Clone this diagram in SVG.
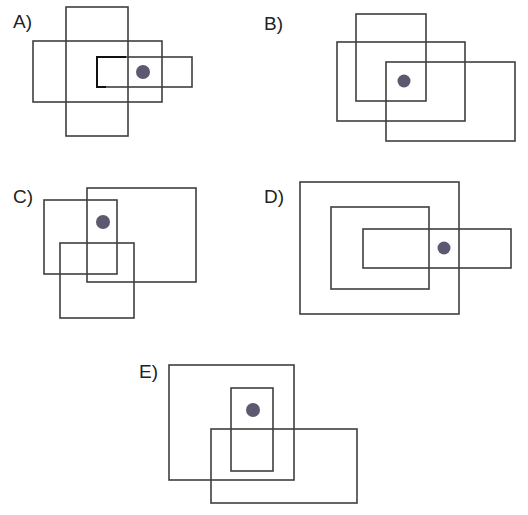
<svg xmlns="http://www.w3.org/2000/svg" width="528" height="515" viewBox="0 0 528 515">
<style>
.r{fill:none;stroke:#3f3f3f;stroke-width:1.6}
.d{fill:#5b5a70}
.t{font-family:"Liberation Sans",Arial,sans-serif;font-size:19px;fill:#222}
</style>
<rect width="528" height="515" fill="#fff"/>
<g id="A">
<text class="t" x="13" y="28">A)</text>
<rect class="r" x="66" y="7" width="62" height="129"/>
<rect class="r" x="33" y="41" width="129" height="61"/>
<rect class="r" x="97" y="57" width="95" height="30"/>
<path d="M126 57H97V87H106" fill="none" stroke="#111" stroke-width="2"/>
<circle class="d" cx="143" cy="72" r="7"/>
</g>
<g id="B">
<text class="t" x="264" y="30">B)</text>
<rect class="r" x="356" y="14" width="70" height="87"/>
<rect class="r" x="337" y="42" width="128" height="79"/>
<rect class="r" x="386" y="62" width="129" height="79"/>
<circle class="d" cx="404" cy="81" r="6.5"/>
</g>
<g id="C">
<text class="t" x="13" y="203">C)</text>
<rect class="r" x="44" y="200" width="73" height="74"/>
<rect class="r" x="87" y="188" width="109" height="94"/>
<rect class="r" x="60" y="243" width="74" height="75"/>
<circle class="d" cx="103" cy="222" r="7"/>
</g>
<g id="D">
<text class="t" x="264" y="203">D)</text>
<rect class="r" x="300" y="182" width="159" height="132"/>
<rect class="r" x="331" y="207" width="98" height="82"/>
<rect class="r" x="363" y="229" width="148" height="39"/>
<circle class="d" cx="444" cy="248" r="6.5"/>
</g>
<g id="E">
<text class="t" x="139" y="378">E)</text>
<rect class="r" x="169" y="365" width="125" height="115"/>
<rect class="r" x="231" y="388" width="42" height="83"/>
<rect class="r" x="211" y="429" width="146" height="74"/>
<circle class="d" cx="253" cy="410" r="7"/>
</g>
</svg>
